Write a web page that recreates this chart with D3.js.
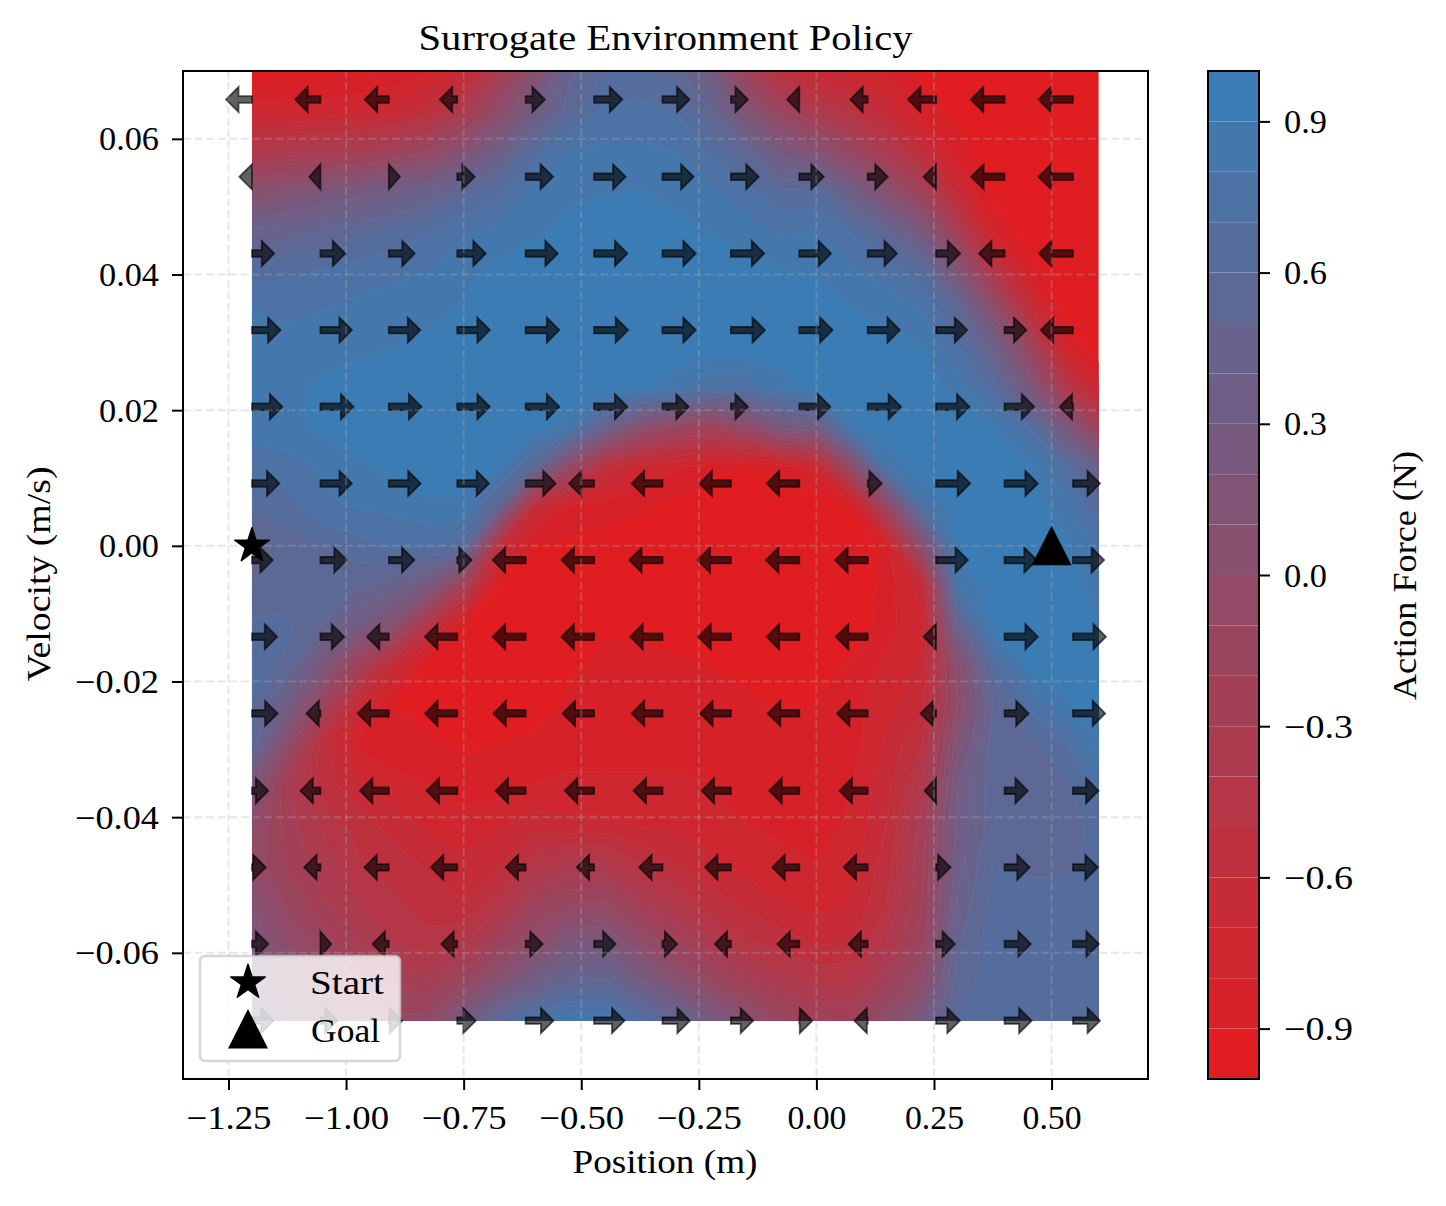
<!DOCTYPE html>
<html>
<head>
<meta charset="utf-8">
<script src="https://cdn.jsdelivr.net/npm/d3@7"></script>
<style>
html,body{margin:0;padding:0;background:#fff}
svg{display:block}
text{font-family:"Liberation Serif",serif;fill:#000}
</style>
</head>
<body>
<svg id="chart" width="1446" height="1206"></svg>
<script>
// ---------- chart data ----------
const titleText = "Surrogate Environment Policy";
const xLabel = "Position (m)";
const yLabel = "Velocity (m/s)";
const colorbarLabel = "Action Force (N)";
const xTicks = [-1.25,-1,-0.75,-0.5,-0.25,0,0.25,0.5];
const yTicks = [-0.06,-0.04,-0.02,0,0.02,0.04,0.06];
const colorbarTicks = [-0.9,-0.6,-0.3,0,0.3,0.6,0.9];
const startPoint = [-1.2,0];
const goalPoint = [0.5,0];
const fieldXRange = [-1.2,0.6];
const fieldYRange = [0.07,-0.07];
const levelEdges = [-1,-0.9,-0.8,-0.7,-0.6,-0.5,-0.4,-0.3,-0.2,-0.1,0,0.1,0.2,0.3,0.4,0.5,0.6,0.7,0.8,0.9,1];
const arrowX = [-1.2,-1.0545,-0.9091,-0.7636,-0.6182,-0.4727,-0.3273,-0.1818,-0.0364,0.1091,0.2545,0.4,0.5455];
const arrowY = [0.0658,0.0544,0.0431,0.0318,0.0205,0.0092,-0.0021,-0.0134,-0.0247,-0.0361,-0.0474,-0.0587,-0.07];
const arrowRow0 = [-.75,-.73,-.70,-.52,.57,.81,.78,.51,-.38,-.52,-.81,-.96,-.98];
const arrowRow1 = [-.39,-.35,.35,.52,.79,.90,.89,.80,.71,.59,-.39,-.95,-.98];
const arrowRow2 = [.65,.72,.75,.82,.92,.95,.95,.95,.91,.84,.70,-.74,-.97];
const arrowRow3 = [.82,.90,.90,.93,.96,.97,.95,.97,.95,.92,.89,.64,-.92];
const arrowRow4 = [.87,.94,.93,.93,.96,.95,.76,.51,.89,.95,.95,.85,-.41];
const arrowRow5 = [.79,.90,.91,.91,.86,-.73,-.88,-.90,-.93,.43,.97,.95,.78];
const arrowRow6 = [.61,.76,.74,.44,-.94,-.93,-.95,-.95,-.95,-.93,.91,.92,.89];
const arrowRow7 = [.73,.69,-.64,-.92,-.94,-.93,-.92,-.93,-.93,-.91,-.39,.95,.94];
const arrowRow8 = [.74,-.43,-.89,-.92,-.92,-.90,-.88,-.88,-.90,-.88,-.47,.70,.92];
const arrowRow9 = [.49,-.59,-.83,-.88,-.86,-.84,-.83,-.84,-.86,-.81,-.36,.68,.74];
const arrowRow10 = [.42,-.49,-.71,-.76,-.59,-.52,-.68,-.75,-.78,-.70,.44,.73,.72];
const arrowRow11 = [.49,.34,-.49,-.48,.51,.63,.45,-.49,-.64,-.57,.56,.76,.75];
const arrowRow12 = [.63,.51,.41,.55,.80,.87,.79,.65,.40,-.41,.69,.78,.78];
const arrowRows = [arrowRow0,arrowRow1,arrowRow2,arrowRow3,arrowRow4,arrowRow5,arrowRow6,arrowRow7,arrowRow8,arrowRow9,arrowRow10,arrowRow11,arrowRow12];
// action field, top row (v = 0.07) to bottom row (v = -0.07), left (x = -1.2) to right (x = 0.6)
const fieldRows = [
[-.97,-.95,-.93,-.92,-.88,-.82,-.7,-.3,.05,.48,.6,.62,.55,.3,-.2,-.55,-.7,-.72,-.8,-.92,-1,-1,-1,-1,-1],
[-.75,-.75,-.75,-.72,-.68,-.55,-.35,0,.3,.55,.73,.73,.7,.5,.15,-.15,-.35,-.5,-.65,-.85,-.93,-1,-1,-1,-1],
[-.4,-.37,-.33,-.3,-.22,-.1,.1,.35,.65,.8,.82,.82,.8,.68,.5,.25,.1,-.12,-.35,-.62,-.85,-1,-1,-1,-1],
[.03,.1,.18,.25,.32,.4,.55,.65,.82,.88,.89,.9,.87,.82,.73,.6,.62,.35,.05,-.22,-.65,-.95,-1,-1,-1],
[.42,.45,.5,.55,.62,.68,.78,.83,.88,.93,.94,.95,.93,.89,.85,.78,.8,.68,.5,.22,-.3,-.8,-.98,-1,-1],
[.65,.67,.7,.74,.77,.8,.87,.92,.95,.97,.97,.97,.97,.96,.93,.9,.89,.82,.75,.62,.15,-.45,-.85,-1,-1],
[.8,.78,.8,.83,.85,.87,.91,.97,.97,.97,.97,.97,.97,.97,.97,.96,.95,.9,.86,.8,.55,.05,-.55,-.95,-1],
[.82,.83,.86,.88,.9,.93,.97,.97,.97,.97,.97,.97,.97,.97,.97,.97,.97,.97,.95,.9,.72,.42,-.1,-.75,-.98],
[.82,.88,.92,.95,.97,.97,.97,.97,.97,.97,.97,.93,.85,.72,.72,.85,.95,.97,.97,.95,.87,.65,.25,-.35,-.75],
[.85,.88,.92,.97,.97,.97,.97,.97,.95,.85,.45,.08,-.1,-.2,-.05,.25,.3,.88,.97,.97,.97,.9,.72,.25,-.2],
[.72,.76,.82,.88,.93,.97,.95,.9,.55,-.05,-.55,-.72,-.78,-.85,-.9,-.85,-.72,-.02,.82,.97,.97,.97,.92,.72,.38],
[.62,.65,.78,.81,.83,.88,.88,.5,-.6,-.82,-.85,-.87,-.93,-1,-1,-1,-1,-.88,-.1,.75,.97,.97,.97,.85,.62],
[.45,.55,.6,.66,.72,.72,.65,-.55,-.91,-.92,-.95,-1,-1,-1,-1,-1,-1,-1,-.85,.05,.95,.97,.97,.93,.78],
[.5,.55,.58,.52,.45,.25,-.25,-.93,-1,-1,-1,-1,-1,-1,-1,-1,-1,-1,-.85,-.65,.8,.97,.97,.97,.85],
[.62,.62,.5,.3,.1,-.45,-.92,-1,-1,-1,-.92,-.93,-.95,-1,-1,-1,-1,-1,-.83,-.72,.45,.92,.97,.97,.9],
[.65,.58,.22,-.2,-.6,-.93,-1,-1,-1,-.92,-.87,-.86,-.88,-.9,-.94,-.97,-.95,-.88,-.77,-.68,.05,.65,.93,.97,.97],
[.6,.35,-.15,-.65,-.9,-.95,-.97,-1,-.95,-.88,-.87,-.85,-.86,-.86,-.88,-.92,-.9,-.83,-.74,-.62,0,.5,.72,.88,.97],
[.6,0,-.55,-.82,-.88,-.88,-.92,-.9,-.88,-.85,-.85,-.85,-.85,-.85,-.85,-.86,-.87,-.85,-.68,-.5,.15,.55,.57,.68,.88],
[.22,-.3,-.55,-.68,-.76,-.8,-.86,-.85,-.8,-.78,-.78,-.78,-.77,-.8,-.83,-.85,-.88,-.8,-.63,-.4,.3,.55,.55,.58,.75],
[.02,-.25,-.42,-.55,-.65,-.73,-.76,-.72,-.65,-.68,-.68,-.72,-.72,-.76,-.8,-.82,-.85,-.78,-.6,-.25,.33,.55,.55,.57,.62],
[-.02,-.22,-.35,-.48,-.55,-.62,-.68,-.62,-.45,-.38,-.38,-.5,-.6,-.68,-.74,-.78,-.8,-.74,-.55,-.22,.35,.6,.57,.58,.62],
[.1,-.12,-.28,-.4,-.48,-.55,-.6,-.45,-.2,-.12,-.1,-.28,-.42,-.55,-.63,-.7,-.75,-.7,-.5,-.2,.42,.63,.65,.63,.65],
[.2,0,-.15,-.3,-.4,-.47,-.42,-.2,0,.2,.22,0,-.18,-.35,-.48,-.55,-.62,-.6,-.4,-.15,.48,.65,.65,.65,.65],
[.3,.1,-.03,-.15,-.22,-.28,-.12,.12,.35,.5,.52,.32,.1,-.1,-.25,-.35,-.42,-.42,-.22,0,.55,.65,.65,.65,.65],
[.35,.2,.05,-.05,-.08,-.05,.3,.6,.78,.88,.88,.72,.52,.32,.1,-.1,-.2,-.18,.02,.3,.62,.65,.65,.65,.65]
];

// ---------- layout ----------
const plot = {left:183,right:1148,top:71,bottom:1079};
const bar = {left:1208,right:1259,top:71,bottom:1079};
const x = d3.scaleLinear().domain([-1.3467,0.705]).range([plot.left,plot.right]);
const y = d3.scaleLinear().domain([-0.0786,0.07]).range([plot.bottom,plot.top]);
const cbY = d3.scaleLinear().domain([-1,1]).range([bar.bottom,bar.top]);
const arrowLen = d3.scaleLinear().domain([0,1]).range([0,37]);
const mix = d3.interpolateRgb("#e41a1c","#377eb8");
const bandColor = v => mix((v+1)/2);

const svg = d3.select("#chart");
const nCols = fieldRows[0].length, nRows = fieldRows.length;
const colToX = d3.scaleLinear().domain([0.5,nCols-0.5]).range(fieldXRange);
const rowToY = d3.scaleLinear().domain([0.5,nRows-0.5]).range(fieldYRange);
const gridPath = d3.geoPath(d3.geoTransform({
  point(cx,cy){ this.stream.point(x(colToX(cx)), y(rowToY(cy))); }
}));

svg.append("defs").append("clipPath").attr("id","fieldClip").append("rect")
  .attr("x",x(fieldXRange[0])).attr("y",y(fieldYRange[0]))
  .attr("width",x(fieldXRange[1])-x(fieldXRange[0]))
  .attr("height",y(fieldYRange[1])-y(fieldYRange[0]));

// filled contours
const flat = fieldRows.flat();
const bands = d3.range(levelEdges.length-1).map(i=>({lo:levelEdges[i],hi:levelEdges[i+1]}));
const contourGen = d3.contours().size([nCols,nRows]);
const gField = svg.append("g").attr("clip-path","url(#fieldClip)");
bands.forEach((b,i)=>{
  const th = i===0 ? -1.001 : b.lo;
  gField.append("path").datum(contourGen.contour(flat,th))
    .attr("d",gridPath)
    .attr("fill",bandColor((b.lo+b.hi)/2))
    .attr("stroke",i===0?"none":"#fff").attr("stroke-opacity",0.05).attr("stroke-width",0.7);
});

// arrows
const lineGen = d3.line();
const arrowPts = v=>{
  const s = Math.sign(v), L = arrowLen(Math.abs(v))-1.8, head=12.5, hw=12.5, sw=3.3;
  if (L<=head) return [[0,-hw],[s*L,0],[0,hw]];
  return [[0,-sw],[s*(L-head),-sw],[s*(L-head),-hw],[s*L,0],[s*(L-head),hw],[s*(L-head),sw],[0,sw]];
};
const arrowData = arrowRows.flatMap((row,j)=>row.map((v,i)=>({x:arrowX[i],y:arrowY[j],v})));
svg.append("g").selectAll("path").data(arrowData).join("path")
  .attr("transform",d=>`translate(${x(d.x)},${y(d.y)})`)
  .attr("d",d=>lineGen(arrowPts(d.v))+"Z")
  .attr("fill","#000").attr("fill-opacity",0.62)
  .attr("stroke","#000").attr("stroke-opacity",0.62).attr("stroke-width",1.8)
  .attr("stroke-linejoin","miter");

// grid
const gGrid = svg.append("g").attr("stroke","#b0b0b0").attr("stroke-opacity",0.3)
  .attr("stroke-width",2).attr("stroke-dasharray","8,3.6").attr("fill","none");
gGrid.selectAll(".gx").data(xTicks).join("line").attr("x1",d=>x(d)).attr("x2",d=>x(d)).attr("y1",plot.top).attr("y2",plot.bottom);
gGrid.selectAll(".gy").data(yTicks).join("line").attr("y1",d=>y(d)).attr("y2",d=>y(d)).attr("x1",plot.left).attr("x2",plot.right);

// markers
const starPath = d3.symbol(d3.symbolStar,370)();
const triPath = lineGen([[0,-20],[20,19.5],[-20,19.5]])+"Z";
svg.append("path").attr("d",starPath).attr("transform",`translate(${x(startPoint[0])},${y(startPoint[1])})`)
  .attr("fill","#000").attr("stroke","#000").attr("stroke-width",1.5).attr("stroke-linejoin","round");
svg.append("path").attr("d",triPath).attr("transform",`translate(${x(goalPoint[0])},${y(goalPoint[1])})`).attr("fill","#000");

// frame
svg.append("rect").attr("x",plot.left).attr("y",plot.top).attr("width",plot.right-plot.left).attr("height",plot.bottom-plot.top)
  .attr("fill","none").attr("stroke","#000").attr("stroke-width",2);

// axes
const FS = 33;
const styleAxis = (g,w0,wNeg)=>{
  g.select(".domain").remove();
  g.selectAll(".tick line").attr("stroke","#000").attr("stroke-width",2);
  g.selectAll(".tick text").attr("font-size",FS).attr("font-family","Liberation Serif").attr("fill","#000")
    .attr("textLength",function(){return this.textContent.startsWith("−")?wNeg:w0;})
    .attr("lengthAdjust","spacingAndGlyphs");
};
const gx = svg.append("g").attr("transform",`translate(0,${plot.bottom})`)
  .call(d3.axisBottom(x).tickValues(xTicks).tickFormat(d3.format(".2f")).tickSize(11).tickSizeOuter(0));
styleAxis(gx,59,85);
gx.selectAll(".tick text").attr("y",50).attr("dy",0);
const gy = svg.append("g").attr("transform",`translate(${plot.left},0)`)
  .call(d3.axisLeft(y).tickValues(yTicks).tickFormat(d3.format(".2f")).tickSize(11).tickSizeOuter(0));
styleAxis(gy,60,84);
gy.selectAll(".tick text").attr("x",-24).attr("dy",11);

// colorbar
const gBar = svg.append("g");
gBar.selectAll("rect").data(bands).join("rect")
  .attr("x",bar.left).attr("width",bar.right-bar.left)
  .attr("y",d=>cbY(d.hi)).attr("height",d=>cbY(d.lo)-cbY(d.hi))
  .attr("fill",d=>bandColor((d.lo+d.hi)/2));
gBar.selectAll("line").data(levelEdges.slice(1,-1)).join("line")
  .attr("x1",bar.left).attr("x2",bar.right).attr("y1",d=>cbY(d)).attr("y2",d=>cbY(d))
  .attr("stroke","#fff").attr("stroke-opacity",0.05).attr("stroke-width",1);
svg.append("rect").attr("x",bar.left).attr("y",bar.top).attr("width",bar.right-bar.left).attr("height",bar.bottom-bar.top)
  .attr("fill","none").attr("stroke","#000").attr("stroke-width",2);
const gc = svg.append("g").attr("transform",`translate(${bar.right},0)`)
  .call(d3.axisRight(cbY).tickValues(colorbarTicks).tickFormat(d3.format(".1f")).tickSize(11).tickSizeOuter(0));
styleAxis(gc,43,69);
gc.selectAll(".tick text").attr("x",25).attr("dy",11);

// titles
const label = (txt,px,py,size,len,rot)=>{
  const t = svg.append("text").text(txt).attr("font-size",size).attr("text-anchor","middle")
    .attr("textLength",len).attr("lengthAdjust","spacingAndGlyphs");
  if (rot) t.attr("transform",`translate(${px},${py}) rotate(-90)`);
  else t.attr("x",px).attr("y",py);
};
label(titleText,665.5,50,36,494);
label(xLabel,665,1173,33,185);
label(yLabel,50,574,33,215,true);
label(colorbarLabel,1416,575.5,33,249,true);

// legend
const gLeg = svg.append("g");
gLeg.append("rect").attr("x",200).attr("y",956).attr("width",200).attr("height",105).attr("rx",5)
  .attr("fill","#fff").attr("fill-opacity",0.8).attr("stroke","#ccc").attr("stroke-opacity",0.8).attr("stroke-width",2.5);
gLeg.append("path").attr("d",starPath).attr("transform","translate(248,982.5)").attr("fill","#000").attr("stroke","#000").attr("stroke-width",1.5).attr("stroke-linejoin","round");
gLeg.append("path").attr("d",triPath).attr("transform","translate(248,1029)").attr("fill","#000");
gLeg.append("text").text("Start").attr("x",310).attr("y",994).attr("font-size",33).attr("textLength",74).attr("lengthAdjust","spacingAndGlyphs");
gLeg.append("text").text("Goal").attr("x",311).attr("y",1042).attr("font-size",33).attr("textLength",69).attr("lengthAdjust","spacingAndGlyphs");
</script>
</body>
</html>
